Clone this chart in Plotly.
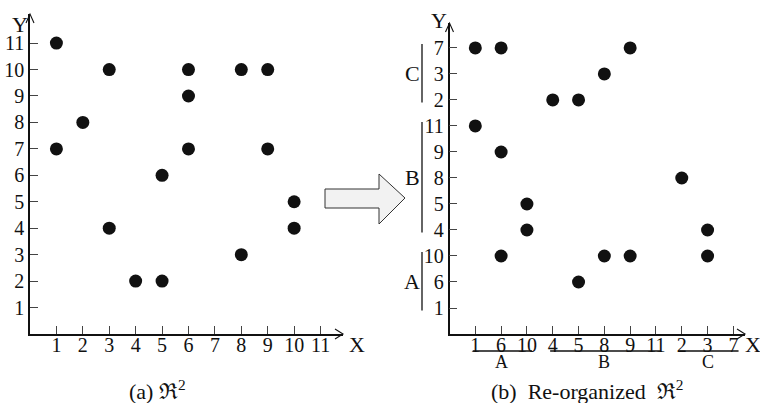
import plotly.graph_objects as go

# ---- data ----
pts_x = [1, 1, 2, 3, 3, 4, 5, 5, 6, 6, 6, 8, 8, 9, 9, 10, 10]
pts_y = [11, 7, 8, 10, 4, 2, 2, 6, 10, 9, 7, 10, 3, 10, 7, 5, 4]
axis_ticks = list(range(1, 12))
group_names = ["A", "B", "C"]
group_members = [[1, 6, 10], [4, 5, 8, 9, 11], [2, 3, 7]]
caption_a = "(a) \u211c<sup>2</sup>"
caption_b = "(b)  Re-organized  \u211c<sup>2</sup>"

order = [v for g in group_members for v in g]
pos = {v: i + 1 for i, v in enumerate(order)}
re_x = [pos[v] for v in pts_x]
re_y = [pos[v] for v in pts_y]

W, H = 760, 403
FONT = "Liberation Serif"
def px(x):
    return x / W
def py(y):
    return (H - y) / H

fig = go.Figure()
mk = dict(size=13, color="#111111")
fig.add_trace(go.Scatter(x=pts_x, y=pts_y, mode="markers", marker=mk, xaxis="x", yaxis="y", hoverinfo="skip"))
fig.add_trace(go.Scatter(x=re_x, y=re_y, mode="markers", marker=mk, xaxis="x2", yaxis="y2", hoverinfo="skip"))

ax_common = dict(showgrid=False, zeroline=False, showline=True, linecolor="#111", linewidth=1.5,
                 ticks="inside", ticklen=8, tickwidth=1.2, tickcolor="#444",
                 tickfont=dict(family=FONT, size=20, color="#111"), fixedrange=True)

fig.update_layout(
    width=W, height=H, margin=dict(l=0, r=0, t=0, b=0),
    paper_bgcolor="white", plot_bgcolor="rgba(0,0,0,0)", showlegend=False,
    xaxis=dict(domain=[px(30), px(343)], range=[0, 11.85], tickvals=axis_ticks,
               ticktext=[str(v) for v in axis_ticks], anchor="y", ticklabelstandoff=-8, **ax_common),
    yaxis=dict(domain=[py(334), py(14)], range=[0, 12.1], tickvals=axis_ticks,
               ticktext=[str(v) for v in axis_ticks], anchor="x", **ax_common),
    xaxis2=dict(domain=[px(449.5), px(745)], range=[0, 11.45], tickvals=axis_ticks,
                ticktext=[str(v) for v in order], anchor="y2", ticklabelstandoff=-8, **ax_common),
    yaxis2=dict(domain=[py(334), py(23)], range=[0, 11.96], tickvals=axis_ticks,
                ticktext=[str(v) for v in order], anchor="x2", **ax_common),
    xaxis3=dict(domain=[0, 1], range=[0, W], visible=False, fixedrange=True, anchor="y3"),
    yaxis3=dict(domain=[0, 1], range=[H, 0], visible=False, fixedrange=True, anchor="x3"),
)

shapes = []
annos = []
def txt(x, y, s, size=20, xref="x3", yref="y3", xanchor="center"):
    annos.append(dict(x=x, y=y, xref=xref, yref=yref, text=s, showarrow=False,
                      font=dict(family=FONT, size=size, color="#111"), xanchor=xanchor, yanchor="middle"))

def line(x0, y0, x1, y1, xref="x3", yref="y3", w=1.3, c="#111"):
    shapes.append(dict(type="line", x0=x0, y0=y0, x1=x1, y1=y1, xref=xref, yref=yref,
                       line=dict(color=c, width=w)))

# axis arrowheads (open chevrons)
for (xa, ytop) in [(30, 14), (449.5, 23)]:
    shapes.append(dict(type="path", path=f"M {xa-4},{ytop+9} L {xa},{ytop} L {xa+4},{ytop+9}",
                       xref="x3", yref="y3", line=dict(color="#111", width=1.1)))
for (xend, yax) in [(343, 334), (745, 334)]:
    shapes.append(dict(type="path", path=f"M {xend-8},{yax-5} L {xend},{yax} L {xend-8},{yax+5}",
                       xref="x3", yref="y3", line=dict(color="#111", width=1.1)))

# axis labels
txt(20, 24, "Y", size=22)
txt(357, 344, "X", size=22)
txt(439, 20, "Y", size=22)
txt(753, 344, "X", size=22)

# group brackets on re-organized axes
start = 1
for name, members in zip(group_names, group_members):
    end = start + len(members) - 1
    center = (start + end) / 2
    # bottom (x) groups
    line(start - 0.1, 351, end + 0.2, 351, xref="x2", yref="y3")
    txt(center, 362, name, size=18, xref="x2", yref="y3")
    # left (y) groups
    line(422, start - 0.1, 422, end + 0.15, xref="x3", yref="y2")
    txt(412, center, name, size=22, xref="x3", yref="y2")
    start = end + 1

# block arrow between panels
shapes.append(dict(type="path",
                   path="M 325,189 L 379,189 L 379,174 L 405,198 L 379,224 L 379,208 L 325,208 Z",
                   xref="x3", yref="y3", fillcolor="#f2f2f2", line=dict(color="#333", width=1)))

# captions
txt(157, 390, caption_a, size=22)
txt(587, 390, caption_b, size=22)

fig.update_layout(shapes=shapes, annotations=annos)
fig.write_html("out.html")
